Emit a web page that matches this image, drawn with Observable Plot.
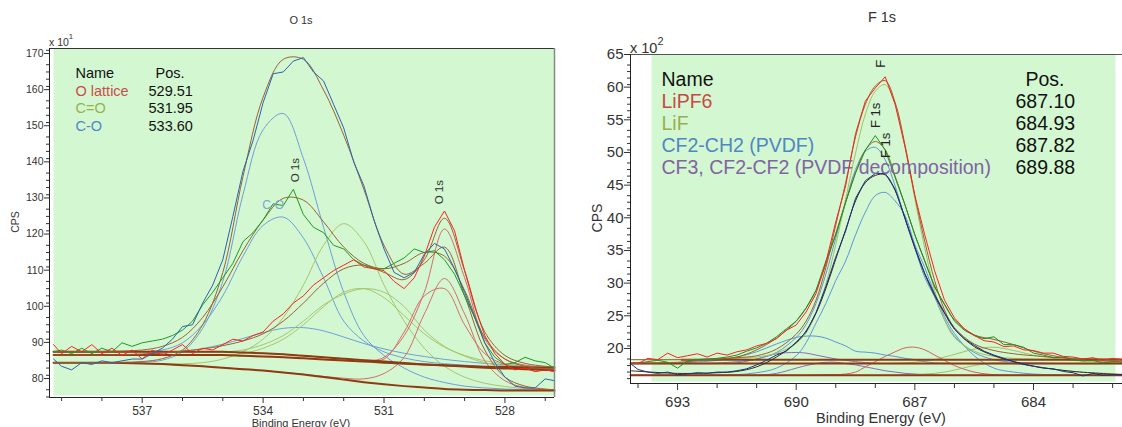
<!DOCTYPE html>
<html><head><meta charset="utf-8">
<script src="https://cdn.jsdelivr.net/npm/d3@7"></script>
<script src="https://cdn.jsdelivr.net/npm/@observablehq/plot@0.6"></script>
<style>
body{margin:0;background:#fff;font-family:"Liberation Sans",Arial,Helvetica,sans-serif;}
#wrap{position:relative;width:1122px;height:427px;overflow:hidden;background:#fff;}
.abs{position:absolute;white-space:nowrap;color:#333;line-height:1;}
.c{transform:translate(-50%,-50%);}
.r{transform:translate(-50%,-50%) rotate(-90deg);}
sup{font-size:75%;vertical-align:top;position:relative;top:-0.45em;}
</style></head><body>
<div id="wrap">
<div id="left" style="position:absolute;left:0;top:0"></div>
<div id="right" style="position:absolute;left:561px;top:0"></div>
<div class="abs c" style="left:301px;top:20px;font-size:11px">O 1s</div>
<div class="abs c" style="left:882px;top:17px;font-size:14.5px">F 1s</div>
<div class="abs" style="left:49px;top:37px;font-size:10.5px">x 10<sup>1</sup></div>
<div class="abs" style="left:630px;top:41px;font-size:14.5px">x 10<sup>2</sup></div>
<div class="abs r" style="left:15px;top:222px;font-size:10.5px">CPS</div>
<div class="abs r" style="left:597px;top:218px;font-size:14px">CPS</div>
<div class="abs c" style="left:301px;top:423px;font-size:11px">Binding Energy (eV)</div>
<div class="abs c" style="left:881px;top:418px;font-size:14.5px">Binding Energy (eV)</div>
</div>
<script>
// ---------------- O 1s (left) data ----------------
const oRawE = [539.2, 539, 538.75, 538.5, 538.25, 538, 537.75, 537.5, 537.25, 537, 536.75, 536.5, 536.25, 536, 535.75, 535.5, 535.25, 535, 534.75, 534.5, 534.25, 534, 533.75, 533.5, 533.25, 533, 532.75, 532.5, 532.25, 532, 531.75, 531.5, 531.25, 531, 530.75, 530.5, 530.25, 530, 529.75, 529.5, 529.25, 529, 528.75, 528.5, 528.25, 528, 527.75, 527.5, 527.25, 527, 526.77];
const oBlueRaw = [86.5, 84.5, 83.5, 85.5, 85, 86, 85.5, 86, 86.5, 86.5, 88, 89.5, 92, 95.5, 96, 102, 107, 114, 126, 138.5, 147, 157.5, 165.5, 166, 169, 170, 166, 163.5, 157, 150.5, 141, 134.5, 125, 117, 110.5, 109, 110.5, 115.5, 118.5, 117, 111.5, 105, 98, 91, 85.5, 81.5, 79, 78.5, 78.5, 81, 80.5];
const oGreenRaw = [88.5, 89, 88, 89.5, 88, 89.5, 88.5, 91, 90, 91, 91.5, 92, 93, 94.5, 97, 101.5, 105, 109, 113, 119, 121.5, 125, 129.5, 129, 133.5, 126.5, 123, 121.5, 118, 117, 114, 112.5, 111.5, 111.5, 113, 114.5, 117, 116, 116.5, 114, 110, 104, 98, 91, 87, 85, 85.5, 87, 86, 85.5, 84];
const oRedRaw = [90.5, 88, 90, 88.5, 90.5, 88, 89.5, 87.5, 89, 86.5, 89, 87.5, 89, 90.5, 88, 89.5, 89, 90.5, 92, 91.5, 93, 94, 97, 99, 102, 104, 107, 109, 111, 112.5, 114, 112, 111.5, 111, 108, 106, 109, 115, 123, 127.5, 122, 111, 101, 93, 88, 85, 83.5, 84, 83, 83.5, 83];

const oFitE = [539.2, 538.5, 538, 537.5, 537, 536.5, 536, 535.5, 535, 534.5, 534, 533.5, 533, 532.5, 532, 531.5, 531, 530.5, 530, 529.5, 529, 528.5, 528, 527.5, 527, 526.77];
const oBlueBg = [85.5, 85.5, 85.5, 85.4, 85.3, 85.1, 84.8, 84.5, 84.1, 83.7, 83.3, 82.8, 82.2, 81.5, 80.8, 80.1, 79.5, 79, 78.6, 78.2, 78, 77.9, 77.8, 77.8, 77.8, 77.8];
const oGreenBg = [88.5, 88.5, 88.5, 88.5, 88.5, 88.5, 88.5, 88.5, 88.5, 88.3, 88.1, 87.8, 87.4, 87, 86.6, 86.2, 85.8, 85.4, 85, 84.7, 84.4, 84.1, 83.9, 83.7, 83.5, 83.4];
const oRedBg = [87.6, 87.6, 87.6, 87.6, 87.6, 87.6, 87.6, 87.6, 87.6, 87.4, 87.2, 87, 86.7, 86.4, 86.1, 85.8, 85.5, 85.2, 85, 84.8, 84.6, 84.4, 84.3, 84.2, 84.1, 84.1];
const oBlueCO = [85.5, 85.5, 85.5, 85.5, 85.6, 86.2, 88.5, 95, 108, 132, 150, 154.5, 142, 123, 105, 93, 87.5, 84, 81.5, 80, 79, 78.5, 78.2, 78, 78, 78];
const oBlueCeO = [85.5, 85.5, 85.5, 85.4, 85.3, 85.2, 85.2, 85.5, 86.5, 88.5, 92, 98, 107, 118, 124, 119, 107, 97, 89.5, 84.5, 81.5, 79.8, 78.9, 78.3, 78, 77.9];
const oBlueOlat = [85.5, 85.5, 85.5, 85.4, 85.3, 85.1, 84.8, 84.5, 84.1, 83.7, 83.3, 82.8, 82.3, 81.7, 81.2, 81, 82.5, 87, 99, 108.8, 99, 86, 80.5, 78.6, 78, 77.9];
const oBlueEnv = [85.5, 85.5, 85.5, 85.6, 85.8, 86.6, 89, 96, 110.5, 137, 159, 169.5, 169.5, 161, 148.5, 133.5, 118, 110, 113, 117.5, 104, 89, 81.5, 79, 78.2, 78];
const oGreenCO = [88.5, 88.5, 88.5, 88.5, 88.6, 89, 91, 96, 104, 115, 123.5, 125.8, 120, 109, 97, 91.5, 88.5, 86.8, 85.8, 85.2, 84.8, 84.4, 84.1, 83.9, 83.7, 83.6];
const oGreenCeO = [88.5, 88.5, 88.5, 88.5, 88.5, 88.5, 88.5, 88.5, 88.5, 89, 90.5, 93, 97, 101.5, 104.5, 106, 105, 101, 94.5, 90, 87.3, 85.5, 84.6, 84, 83.6, 83.5];
const oGreenOlat = [88.5, 88.5, 88.5, 88.5, 88.5, 88.5, 88.5, 88.5, 88.5, 88.3, 88.1, 87.8, 87.4, 87, 86.6, 86.2, 86.5, 94, 104, 106, 96, 88, 85, 84, 83.5, 83.4];
const oGreenEnv = [88.6, 88.6, 88.6, 88.7, 89, 90, 92.5, 98, 106.5, 116.5, 125, 131, 130.5, 124.5, 117.5, 113, 111.5, 113, 116, 115, 105.5, 92.5, 86.5, 84.5, 83.8, 83.6];
const oRedCO = [87.6, 87.6, 87.6, 87.7, 87.8, 88.1, 88.6, 89.4, 90.6, 92.2, 93.8, 95, 95.2, 94.3, 92.6, 90.8, 89.3, 88.1, 87.2, 86.4, 85.8, 85.3, 84.9, 84.6, 84.3, 84.2];
const oRedCeO = [87.6, 87.6, 87.6, 87.6, 87.6, 87.6, 87.6, 87.6, 87.6, 88, 89.5, 92, 96, 101, 105, 106, 103.5, 98.5, 93.5, 89.8, 87.5, 86, 85.2, 84.6, 84.3, 84.2];
const oRedOlat = [87.6, 87.6, 87.6, 87.6, 87.6, 87.6, 87.6, 87.6, 87.6, 87.4, 87.2, 87, 86.7, 86.4, 86.1, 85.8, 87, 93, 105, 122.5, 109, 92, 86.5, 84.8, 84.2, 84.1];
const oRedEnv = [87.6, 87.6, 87.6, 87.7, 87.9, 88.2, 88.7, 89.3, 90.2, 91.5, 93.5, 97, 102, 107.5, 111.5, 112.5, 110.5, 108.5, 114, 125.5, 111, 94, 87.5, 85.3, 84.5, 84.3];

const oPeakLabelE = [533.2, 529.63];
const oPeakLabelV = [138.8, 132.7];
const oPeakLabelText = ["O 1s", "O 1s"];
const oCOLabelE = [533.75];
const oCOLabelV = [129];
const oCOLabelText = ["C-O"];

const oNames = ["Name", "O lattice", "C=O", "C-O"];
const oPos = ["Pos.", "529.51", "531.95", "533.60"];

const oXMajor = [537, 534, 531, 528];
const oXMinor = [539, 538, 536, 535, 533, 532, 530, 529, 527];
const oYMajor = [80, 90, 100, 110, 120, 130, 140, 150, 160, 170];
const oYMinor = [76, 78, 82, 84, 86, 88, 92, 94, 96, 98, 102, 104, 106, 108, 112, 114, 116, 118, 122, 124, 126, 128, 132, 134, 136, 138, 142, 144, 146, 148, 152, 154, 156, 158, 162, 164, 166, 168, 172];
const oXDomain = [539.3, 526.77];
const oYDomain = [75.85, 172.5];

// ---------------- F 1s (right) data ----------------
const fRawE = [694.19, 694, 693.75, 693.5, 693.25, 693, 692.75, 692.5, 692.25, 692, 691.75, 691.5, 691.25, 691, 690.75, 690.5, 690.25, 690, 689.75, 689.5, 689.25, 689, 688.75, 688.5, 688.25, 688, 687.75, 687.5, 687.25, 687, 686.75, 686.5, 686.25, 686, 685.75, 685.5, 685.25, 685, 684.75, 684.5, 684.25, 684, 683.75, 683.5, 683.25, 683, 682.75, 682.5, 682.25, 682, 681.75];
const fRedRaw = [18.3, 18.3, 19.1, 18.9, 19.9, 19.2, 19.5, 19.8, 19.3, 19.9, 19.6, 20.1, 20.4, 21, 21.4, 22.1, 23.4, 24.2, 26.2, 29, 33.8, 40, 45.5, 53.5, 58.5, 60.5, 62.2, 58, 51.5, 44, 38, 32.5, 28, 25.3, 23.6, 22.6, 21.8, 21.6, 20.9, 21, 20.4, 20.3, 19.9, 19.9, 19.4, 19.3, 19, 19.2, 18.8, 19.1, 18.9];
const fGreenRaw = [18.4, 18.4, 18.6, 18.8, 18.5, 17.6, 18.7, 18.9, 19, 19.1, 19.3, 19.6, 20.2, 20.7, 21.4, 22.4, 23.6, 24.8, 26.8, 29.5, 34, 38, 43, 47.5, 51, 53.2, 51, 46.8, 42.6, 38, 34, 30, 27.4, 24.8, 23.4, 22.6, 22.1, 22.4, 21.2, 21.2, 20.8, 19.9, 19.6, 19.2, 19.3, 18.9, 18.7, 18.8, 18.4, 18.6, 18.5];
const fNavyRaw = [18.3, 17.4, 17, 16.8, 17, 16.6, 16.7, 16.9, 16.8, 17, 17, 17.2, 17.5, 18.1, 18.8, 19.6, 20.2, 21.6, 23.1, 26.1, 30.1, 34.6, 38.6, 43.6, 46.3, 47.4, 47.4, 45, 40.6, 36.1, 32.1, 28.9, 26.1, 23.6, 22.1, 21.1, 20.2, 19.6, 19.1, 18.6, 18.2, 17.9, 17.6, 17.5, 17.1, 16.9, 16.4, 16.8, 16.5, 16.6, 16.6];

const fFitE = [694.19, 693, 692, 691.5, 691, 690.5, 690, 689.75, 689.5, 689.25, 689, 688.75, 688.5, 688.25, 688, 687.75, 687.5, 687.25, 687, 686.75, 686.5, 686.25, 686, 685.5, 685, 684.5, 684, 683, 681.75];
const fLiF = [18.9, 18.9, 19, 19.1, 19.3, 19.9, 21.4, 23, 26, 30.5, 36.5, 43.5, 50.5, 56.5, 60, 61, 58, 51.5, 43.5, 36, 29.5, 25, 22.3, 20.2, 19.4, 19.1, 19, 18.9, 18.9];
const fRedEnv = [18.9, 18.9, 19, 19.2, 19.5, 20.5, 22.8, 24.8, 28, 33, 39.5, 46, 53, 58, 60.8, 61.6, 58.3, 51.8, 44, 37, 31, 26.5, 23.8, 21.3, 20.3, 19.8, 19.5, 19.1, 19];
const fCF2a = [18.3, 18.3, 18.4, 18.6, 19, 20, 22.3, 24.3, 27.5, 32, 37.5, 43, 48, 50.8, 51.4, 49.5, 45.5, 40.5, 36, 31.5, 28.5, 25, 22.5, 20, 18.9, 18.5, 18.4, 18.3, 18.3];
const fGreenEnv = [18.4, 18.5, 19, 19.3, 20.4, 22.2, 24.8, 26.8, 29.5, 33.5, 38.2, 43, 47.5, 51, 52.3, 51, 47, 42.6, 38, 34, 30.2, 27.3, 25, 22.7, 22, 21.2, 20.2, 19, 18.6];
const fCF2b = [16.5, 16.5, 16.5, 16.6, 16.9, 17.6, 19.5, 21.5, 24.5, 27.5, 31, 34, 38, 41.5, 44, 44.5, 43.2, 41, 36.5, 33, 29, 25.5, 22.9, 19.5, 17.6, 17, 16.7, 16.5, 16.5];
const fNavyEnv = [17.2, 16.8, 16.9, 17.1, 17.8, 19.3, 21.5, 23.3, 26, 29.8, 34.3, 38.8, 43.2, 46, 47.1, 47.2, 44.8, 40.5, 36, 32, 28.7, 26, 23.6, 20.9, 19.5, 18.6, 17.9, 17.1, 16.6];
const fCF2Wide = [18.3, 18.4, 18.8, 19.3, 20.1, 21.3, 22.3, 22.5, 22.5, 22.2, 21.6, 21, 20.2, 20.05, 19.9, 19.6, 19.4, 19.1, 18.9, 18.6, 18.4, 18.35, 18.3, 18.3, 18.3, 18.3, 18.3, 18.3, 18.3];
const fLiPF6Small = [16.5, 16.5, 16.5, 16.5, 16.5, 16.5, 16.5, 16.5, 16.55, 16.6, 16.6, 16.7, 17, 17.8, 18.6, 19.4, 20.1, 20.7, 20.8, 20.4, 19.6, 18.8, 18, 17, 16.6, 16.5, 16.5, 16.5, 16.5];
const fLiFSmallA = [18.3, 18.3, 18.3, 18.3, 18.3, 18.3, 18.3, 18.3, 18.3, 18.3, 18.3, 18.3, 18.3, 18.3, 18.3, 18.3, 18.35, 18.4, 18.5, 18.7, 18.9, 19.3, 19.7, 20.5, 20.8, 20.3, 19.6, 18.8, 18.4];
const fLiFSmallB = [16.5, 16.5, 16.5, 16.5, 16.5, 16.5, 16.5, 16.5, 16.5, 16.5, 16.5, 16.5, 16.5, 16.5, 16.5, 16.5, 16.5, 16.55, 16.6, 16.7, 16.8, 17, 17.3, 18, 18.4, 18.3, 17.9, 17.1, 16.7];
const fCF3a = [18.3, 18.3, 18.3, 18.4, 19, 19.8, 20, 19.9, 19.6, 19.3, 19, 18.8, 18.6, 18.45, 18.35, 18.3, 18.3, 18.3, 18.3, 18.3, 18.3, 18.3, 18.3, 18.3, 18.3, 18.3, 18.3, 18.3, 18.3];
const fCF3b = [16.5, 16.5, 16.5, 16.5, 16.5, 16.8, 17.6, 18, 18.3, 18.5, 18.5, 18.3, 18.1, 17.8, 17.5, 17.2, 17, 16.8, 16.7, 16.6, 16.55, 16.5, 16.5, 16.5, 16.5, 16.5, 16.5, 16.5, 16.5];

const fBgAE = [692.9, 681.75];
const fBgA = [18.9, 18.9];
const fBgE = [694.19, 681.75];
const fBgB = [18.3, 18.3];
const fBgC = [16.5, 16.5];

const fPeakLabelE = [687.86, 687.99, 687.73];
const fPeakLabelV = [64.2, 56.3, 51.7];
const fPeakLabelText = ["F", "F 1s", "F 1s"];

const fNames = ["Name", "LiPF6", "LiF", "CF2-CH2 (PVDF)", "CF3, CF2-CF2 (PVDF decomposition)"];
const fPos = ["Pos.", "687.10", "684.93", "687.82", "689.88"];

const fXMajor = [693, 690, 687, 684];
const fXMinor = [694, 692, 691, 689, 688, 686, 685, 683, 682];
const fYMajor = [20, 25, 30, 35, 40, 45, 50, 55, 60, 65];
const fYMinor = [16, 17, 18, 19, 21, 22, 23, 24, 26, 27, 28, 29, 31, 32, 33, 34, 36, 37, 38, 39, 41, 42, 43, 44, 46, 47, 48, 49, 51, 52, 53, 54, 56, 57, 58, 59, 61, 62, 63, 64];
const fXDomain = [694.19, 681.75];
const fYDomain = [15.25, 65.61];

// ---------------- drawing ----------------
const FONT = "Liberation Sans, Arial, Helvetica, sans-serif";
const GREEN_BG = "#d3f8d1";
const pts = (xs, ys) => xs.map((x, i) => ({x, y: ys[i]}));
const ln = (xs, ys, stroke, w = 1, curve = "linear") =>
  Plot.line(pts(xs, ys), {x: "x", y: "y", stroke, strokeWidth: w, curve});
const sm = (xs, ys, stroke, w = 1) => ln(xs, ys, stroke, w, "catmull-rom");
const labels = (es, vs, ts, opts) =>
  Plot.text(es.map((e, i) => ({e, v: vs[i], t: ts[i]})), {x: "e", y: "v", text: "t", ...opts});

const C_CO = "#6d9fd8", C_CEO = "#a8c56e", C_OL = "#d66a6a", BG = "#8e3b12", ENV = "#9c6030";

const leftPlot = Plot.plot({
  width: 561, height: 427,
  marginLeft: 49, marginRight: 7, marginTop: 48, marginBottom: 30,
  x: {domain: oXDomain, label: null},
  y: {domain: oYDomain, label: null},
  style: {fontFamily: FONT, color: "#333", background: "transparent", overflow: "visible"},
  marks: [
    Plot.frame({fill: GREEN_BG, stroke: null, insetLeft: 4, insetBottom: 2}),
    sm(oFitE, oRedCO, C_CO), sm(oFitE, oGreenCO, C_CO), sm(oFitE, oBlueCO, C_CO),
    sm(oFitE, oRedCeO, C_CEO), sm(oFitE, oGreenCeO, C_CEO), sm(oFitE, oBlueCeO, C_CEO),
    sm(oFitE, oRedOlat, C_OL), sm(oFitE, oGreenOlat, C_OL), sm(oFitE, oBlueOlat, C_OL),
    sm(oFitE, oBlueBg, BG, 2), sm(oFitE, oGreenBg, BG, 2), sm(oFitE, oRedBg, BG, 2),
    sm(oFitE, oBlueEnv, ENV), sm(oFitE, oGreenEnv, ENV), sm(oFitE, oRedEnv, ENV),
    ln(oRawE, oGreenRaw, "#1f9a1f"),
    ln(oRawE, oRedRaw, "#ff2020"),
    ln(oRawE, oBlueRaw, "#2c62ad"),
    labels(oPeakLabelE, oPeakLabelV, oPeakLabelText, {rotate: -90, fontSize: 11.5, fill: "#333"}),
    labels(oCOLabelE, oCOLabelV, oCOLabelText, {fontSize: 12, fill: "#7aa6da"}),
    ...oNames.map((t, i) => Plot.text([t], {text: d => d, frameAnchor: "top-left", textAnchor: "start", lineAnchor: "middle",
      dx: 26, dy: 24.7 + i * 17.7, fontSize: 14.5, fill: ["#111", "#cc4b4b", "#95b34a", "#4f86c9"][i]})),
    ...oPos.map((t, i) => Plot.text([t], {text: d => d, frameAnchor: "top-left", textAnchor: "start", lineAnchor: "middle",
      dx: i === 0 ? 106 : 99, dy: 24.7 + i * 17.7, fontSize: 14.5, fill: "#111"})),
    Plot.ruleY([oYDomain[1]], {stroke: "#333"}),
    Plot.ruleX([oXDomain[1]], {stroke: "#888", strokeWidth: 1.5}),
    Plot.ruleX([oXDomain[0]], {stroke: "#222"}),
    Plot.ruleY([oYDomain[0]], {stroke: "#222"}),
    Plot.axisY(oYMajor, {anchor: "left", tickSize: 5, tickPadding: 1, dy: -4, fontSize: 10.5, label: null}),
    Plot.axisY(oYMinor, {anchor: "left", tickSize: 3, tickFormat: () => "", label: null}),
    Plot.axisX(oXMajor, {anchor: "bottom", tickSize: 6, tickPadding: 3, fontSize: 12, label: null}),
    Plot.axisX(oXMinor, {anchor: "bottom", tickSize: 4, tickFormat: () => "", label: null})
  ]
});
document.getElementById("left").append(leftPlot);

const F_CF2 = "#5e95d4", F_LIF = "#a2c262", F_PF6 = "#d06060", F_CF3 = "#8d6bb5";
const rightPlot = Plot.plot({
  width: 561, height: 427,
  marginLeft: 69, marginRight: 0, marginTop: 54, marginBottom: 44,
  x: {domain: fXDomain, label: null},
  y: {domain: fYDomain, label: null},
  style: {fontFamily: FONT, color: "#333", background: "transparent", overflow: "visible"},
  marks: [
    Plot.frame({fill: GREEN_BG, stroke: null, insetLeft: 21, insetBottom: 2, insetRight: 7}),
    sm(fFitE, fCF3a, F_CF3), sm(fFitE, fCF3b, F_CF3),
    sm(fFitE, fLiFSmallA, F_LIF), sm(fFitE, fLiFSmallB, F_LIF),
    sm(fFitE, fLiPF6Small, F_PF6),
    sm(fFitE, fCF2Wide, F_CF2),
    sm(fFitE, fCF2b, F_CF2), sm(fFitE, fCF2a, F_CF2),
    sm(fFitE, fLiF, F_LIF),
    ln(fBgE, fBgC, BG, 2), ln(fBgE, fBgB, BG, 2), ln(fBgAE, fBgA, BG, 2),
    sm(fFitE, fNavyEnv, "#3b2a1c"), sm(fFitE, fGreenEnv, ENV), sm(fFitE, fRedEnv, ENV),
    ln(fRawE, fNavyRaw, "#1c2f85"),
    ln(fRawE, fGreenRaw, "#1f8f1f"),
    ln(fRawE, fRedRaw, "#ff2020"),
    labels(fPeakLabelE, fPeakLabelV, fPeakLabelText, {rotate: -90, fontSize: 13, fill: "#222"}),
    ...fNames.map((t, i) => Plot.text([t], {text: d => d, frameAnchor: "top-left", textAnchor: "start", lineAnchor: "middle",
      dx: 31, dy: 25.5 + i * 22, fontSize: 19.5, fill: ["#111", "#c84848", "#98b050", "#4f86c6", "#8262a6"][i]})),
    ...fPos.map((t, i) => Plot.text([t], {text: d => d, frameAnchor: "top-left", textAnchor: "start", lineAnchor: "middle",
      dx: i === 0 ? 395 : 385, dy: 25.5 + i * 22, fontSize: 19.5, fill: "#111"})),
    Plot.ruleY([fYDomain[1]], {stroke: "#555"}),
    Plot.ruleX([fXDomain[0]], {stroke: "#222"}),
    Plot.ruleY([fYDomain[0]], {stroke: "#222"}),
    Plot.axisY(fYMajor, {anchor: "left", tickSize: 6, tickPadding: 1, dy: -4, fontSize: 15, label: null}),
    Plot.axisY(fYMinor, {anchor: "left", tickSize: 3, tickFormat: () => "", label: null}),
    Plot.axisX(fXMajor, {anchor: "bottom", tickSize: 7, tickPadding: 6, fontSize: 15, label: null}),
    Plot.axisX(fXMinor, {anchor: "bottom", tickSize: 5, tickFormat: () => "", label: null})
  ]
});
document.getElementById("right").append(rightPlot);
</script>
</body></html>
